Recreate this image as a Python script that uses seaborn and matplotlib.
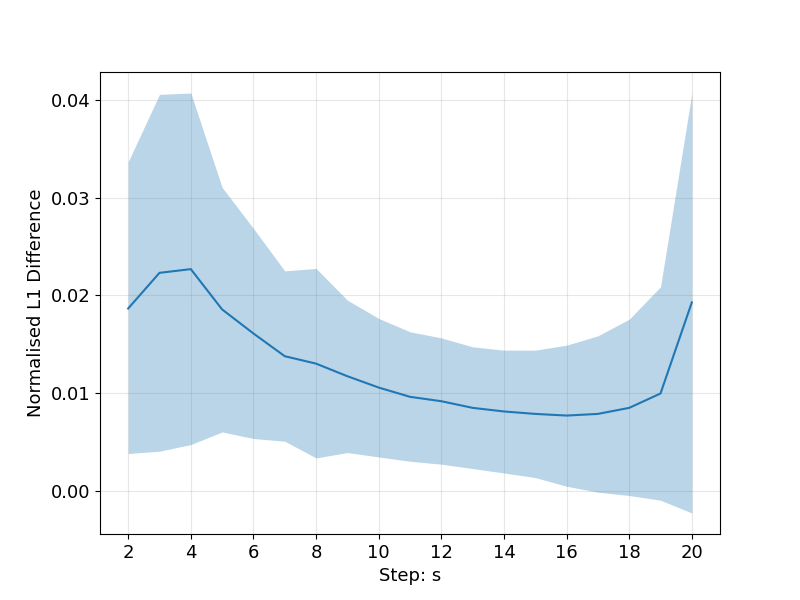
import matplotlib
matplotlib.use("Agg")
import matplotlib.pyplot as plt
import seaborn as sns
import pandas as pd
import numpy as np

steps = [2, 3, 4, 5, 6, 7, 8, 9, 10, 11, 12, 13, 14, 15, 16, 17, 18, 19, 20]
mean_vals = [0.01865, 0.0223, 0.02268, 0.01855, 0.01609, 0.01376, 0.0130, 0.01171, 0.01055, 0.0096,
             0.00915, 0.00847, 0.0081, 0.00785, 0.00768, 0.00785, 0.00847, 0.00994, 0.01927]
upper_vals = [0.03368, 0.04058, 0.04072, 0.03105, 0.02685, 0.0225, 0.02275, 0.0195, 0.01763, 0.01626,
              0.01564, 0.01472, 0.01438, 0.01438, 0.01489, 0.01585, 0.01755, 0.02087, 0.04068]
lower_vals = [0.00379, 0.00403, 0.00471, 0.0060, 0.00533, 0.00505, 0.00334, 0.00389, 0.00344, 0.0030,
              0.0027, 0.00225, 0.0018, 0.00133, 0.00044, -0.00017, -0.00051, -0.00099, -0.0023]

df = pd.DataFrame({"step": steps, "mean": mean_vals, "upper": upper_vals, "lower": lower_vals})

fig, ax = plt.subplots(figsize=(8, 6), dpi=100)
ax.fill_between(df["step"], df["lower"], df["upper"], color="C0", alpha=0.3, linewidth=0)
sns.lineplot(data=df, x="step", y="mean", ax=ax, color="C0", linewidth=1.5)

ax.set_xticks(list(range(2, 21, 2)))
ax.set_yticks([0.0, 0.01, 0.02, 0.03, 0.04])
ax.grid(True, alpha=0.3)
ax.set_axisbelow(True)
ax.tick_params(labelsize=13)
ax.set_xlabel("Step: s", fontsize=13)
ax.set_ylabel("Normalised L1 Difference", fontsize=13)

fig.savefig("out.png", dpi=100)
